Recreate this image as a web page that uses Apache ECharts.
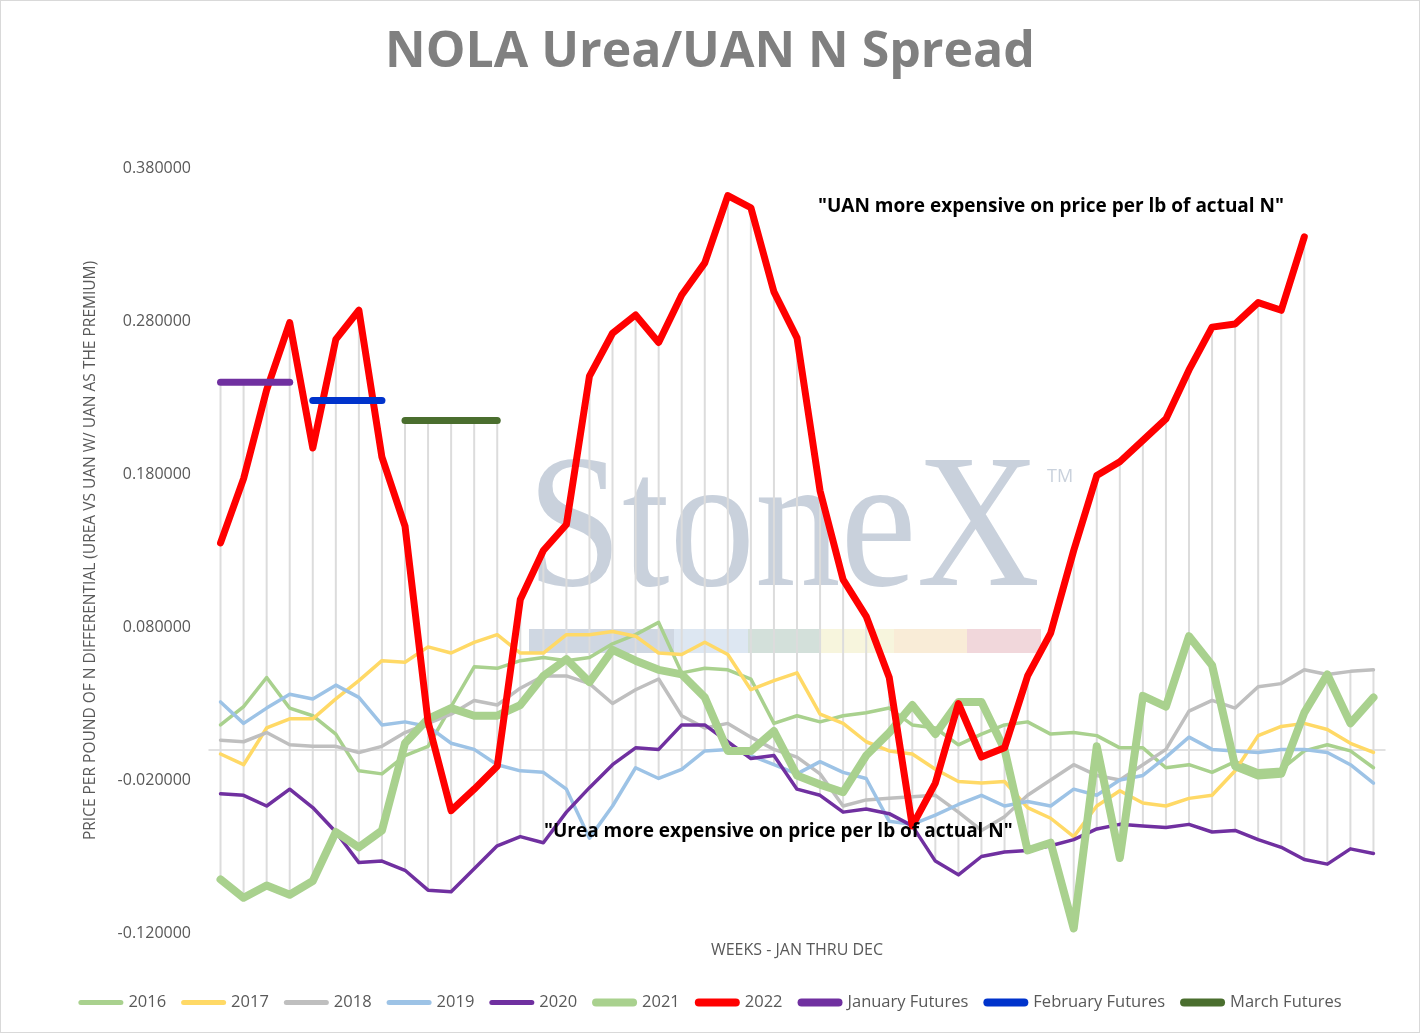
<!DOCTYPE html>
<html>
<head>
<meta charset="utf-8">
<title>NOLA Urea/UAN N Spread</title>
<script src="https://cdn.jsdelivr.net/npm/echarts@6.0.0/dist/echarts.min.js"></script>
<style>
    html, body { margin: 0; padding: 0; background: #fff; }
    #chart { width: 1420px; height: 1033px; box-sizing: border-box; border: 1px solid #d9d9d9; }
</style>
</head>
<body>
<div id="chart"></div>
<script>
// ── data (weeks Jan → Dec) ──

var weeks = ['1', '2', '3', '4', '5', '6', '7', '8', '9', '10', '11', '12', '13', '14', '15', '16', '17',
    '18', '19', '20', '21', '22', '23', '24', '25', '26', '27', '28', '29', '30', '31', '32', '33', '34',
    '35', '36', '37', '38', '39', '40', '41', '42', '43', '44', '45', '46', '47', '48', '49', '50', '51'];

var y2016 = [0.016, 0.028, 0.047, 0.027, 0.022, 0.010, -0.014, -0.016, -0.004, 0.002, 0.028, 0.054, 0.053,
    0.058, 0.060, 0.058, 0.060, 0.069, 0.075, 0.083, 0.050, 0.053, 0.052, 0.046, 0.017, 0.022, 0.018, 0.022,
    0.024, 0.027, 0.016, 0.014, 0.003, 0.010, 0.016, 0.018, 0.010, 0.011, 0.009, 0.001, 0.001, -0.012,
    -0.010, -0.015, -0.008, -0.014, -0.013, -0.001, 0.003, -0.001, -0.012];

var y2017 = [-0.003, -0.010, 0.014, 0.020, 0.020, 0.033, 0.045, 0.058, 0.057, 0.067, 0.063, 0.070, 0.075,
    0.063, 0.063, 0.075, 0.075, 0.077, 0.074, 0.063, 0.062, 0.070, 0.062, 0.039, 0.045, 0.050, 0.023, 0.017,
    0.005, -0.001, -0.003, -0.013, -0.021, -0.022, -0.021, -0.038, -0.045, -0.057, -0.037, -0.027, -0.035,
    -0.037, -0.032, -0.030, -0.014, 0.009, 0.015, 0.017, 0.013, 0.004, -0.002];

var y2018 = [0.006, 0.005, 0.011, 0.003, 0.002, 0.002, -0.002, 0.002, 0.011, 0.017, 0.023, 0.032, 0.029,
    0.040, 0.048, 0.048, 0.043, 0.030, 0.039, 0.046, 0.022, 0.014, 0.017, 0.008, 0.000, -0.005, -0.016,
    -0.037, -0.033, -0.032, -0.031, -0.030, -0.041, -0.053, -0.044, -0.030, -0.020, -0.010, -0.017, -0.020,
    -0.010, 0.000, 0.025, 0.032, 0.027, 0.041, 0.043, 0.052, 0.049, 0.051, 0.052];

var y2019 = [0.031, 0.017, 0.027, 0.036, 0.033, 0.042, 0.034, 0.016, 0.018, 0.015, 0.004, 0.000, -0.010,
    -0.014, -0.015, -0.026, -0.058, -0.037, -0.012, -0.019, -0.013, -0.001, 0.000, -0.004, -0.010, -0.016,
    -0.008, -0.015, -0.019, -0.047, -0.049, -0.043, -0.036, -0.030, -0.037, -0.034, -0.037, -0.026, -0.030,
    -0.020, -0.017, -0.005, 0.008, 0.000, -0.001, -0.002, 0.000, 0.000, -0.002, -0.010, -0.022];

var y2020 = [-0.029, -0.030, -0.037, -0.026, -0.038, -0.054, -0.074, -0.073, -0.079, -0.092, -0.093, -0.078,
    -0.063, -0.057, -0.061, -0.041, -0.025, -0.010, 0.001, 0.000, 0.016, 0.016, 0.005, -0.006, -0.004,
    -0.026, -0.030, -0.041, -0.039, -0.042, -0.050, -0.073, -0.082, -0.070, -0.067, -0.066, -0.063, -0.059,
    -0.052, -0.049, -0.050, -0.051, -0.049, -0.054, -0.053, -0.059, -0.064, -0.072, -0.075, -0.065, -0.068];

var y2021 = [-0.085, -0.097, -0.089, -0.095, -0.086, -0.054, -0.064, -0.053, 0.004, 0.020, 0.027, 0.022,
    0.022, 0.029, 0.048, 0.059, 0.044, 0.065, 0.058, 0.052, 0.049, 0.034, -0.001, -0.001, 0.012, -0.017,
    -0.023, -0.028, -0.004, 0.011, 0.029, 0.010, 0.031, 0.031, 0.000, -0.066, -0.061, -0.117, 0.002, -0.071,
    0.035, 0.028, 0.074, 0.055, -0.011, -0.017, -0.016, 0.024, 0.049, 0.017, 0.034];

var y2022 = [0.135, 0.177, 0.235, 0.279, 0.197, 0.268, 0.287, 0.191, 0.146, 0.018, -0.040, -0.026, -0.011,
    0.098, 0.130, 0.147, 0.244, 0.272, 0.284, 0.266, 0.297, 0.318, 0.362, 0.354, 0.299, 0.269, 0.169, 0.111,
    0.087, 0.047, -0.050, -0.022, 0.030, -0.005, 0.001, 0.048, 0.076, 0.130, 0.179, 0.188, 0.202, 0.216,
    0.248, 0.276, 0.278, 0.292, 0.287, 0.335];

// futures: first week index + weekly values
var janStart = 0;
var janFutures = [0.240, 0.240, 0.240, 0.240];
var febStart = 4;
var febFutures = [0.228, 0.228, 0.228, 0.228];
var marStart = 8;
var marFutures = [0.215, 0.215, 0.215, 0.215, 0.215];

var yTicks = [-0.12, -0.02, 0.08, 0.18, 0.28, 0.38];

// ── helpers ──

var FONT = '"Open Sans", "Noto Sans", sans-serif';

function futuresData(start, vals) {
    return vals.map(function (v, k) { return [start + k, v]; });
}

function padFutures(start, vals) {
    var arr = [];
    for (var i = 0; i < weeks.length; i++) arr.push(null);
    vals.forEach(function (v, k) { arr[start + k] = v; });
    return arr;
}

// Excel style high-low lines (February futures sit outside that group)
function highLow(groups) {
    var out = [];
    for (var i = 0; i < weeks.length; i++) {
        var lo = Infinity, hi = -Infinity;
        groups.forEach(function (g) {
            var v = g[i];
            if (v == null) return;
            if (v < lo) lo = v;
            if (v > hi) hi = v;
        });
        if (hi > -Infinity) out.push([i, lo, hi]);
    }
    return out;
}

var hlData = highLow([y2016, y2017, y2018, y2019, y2020, y2021, y2022,
    padFutures(janStart, janFutures), padFutures(marStart, marFutures)]);

// pill shaped legend icon, 45 wide, h tall
function pill(h) {
    var r = h / 2;
    return 'path://M' + r + ',0 L' + (45 - r) + ',0 A' + r + ',' + r + ' 0 0 1 ' + (45 - r) + ',' + h +
        ' L' + r + ',' + h + ' A' + r + ',' + r + ' 0 0 1 ' + r + ',0 Z';
}

function lineSeries(name, data, color, width, z) {
    return {
        name: name,
        type: 'line',
        data: data,
        symbol: 'none',
        showSymbol: false,
        z: z,
        lineStyle: { color: color, width: width, cap: 'round', join: 'round' },
        itemStyle: { color: color },
        emphasis: { disabled: true },
    };
}

var chart = echarts.init(document.getElementById('chart'));

chart.setOption({
    animation: false,
    backgroundColor: '#ffffff',
    title: {
        text: 'NOLA Urea/UAN N Spread',
        left: 'center',
        top: 22,
        textStyle: { fontFamily: FONT, fontWeight: 'bold', fontSize: 50, color: '#808080' },
    },
    grid: { left: 208, right: 34, top: 167, bottom: 99 },
    legend: {
        data: [
            { name: '2016', icon: pill(5) },
            { name: '2017', icon: pill(5) },
            { name: '2018', icon: pill(5) },
            { name: '2019', icon: pill(5) },
            { name: '2020', icon: pill(5) },
            { name: '2021', icon: pill(8) },
            { name: '2022', icon: pill(8) },
            { name: 'January Futures', icon: pill(8) },
            { name: 'February Futures', icon: pill(8) },
            { name: 'March Futures', icon: pill(8) },
        ],
        left: 'center',
        bottom: 16,
        itemWidth: 45,
        itemHeight: 9,
        itemGap: 15,
        textStyle: { fontFamily: FONT, fontSize: 16.5, color: '#595959' },
    },
    xAxis: [
        {
            type: 'category',
            data: weeks,
            boundaryGap: true,
            axisLine: { onZero: true, lineStyle: { color: '#d9d9d9', width: 1.5 } },
            axisTick: { show: false },
            axisLabel: { show: false },
            splitLine: { show: false },
        },
        {
            type: 'category',
            data: weeks,
            position: 'bottom',
            axisLine: { show: false, onZero: false },
            axisTick: { show: false },
            axisLabel: { show: false },
            name: 'WEEKS - JAN THRU DEC',
            nameLocation: 'middle',
            nameGap: 9,
            nameTextStyle: { fontFamily: FONT, fontSize: 16, color: '#595959' },
        },
    ],
    yAxis: {
        type: 'value',
        min: -0.12,
        max: 0.38,
        name: 'PRICE PER POUND OF N DIFFERENTIAL (UREA VS UAN W/ UAN AS THE PREMIUM)',
        nameLocation: 'middle',
        nameGap: 110,
        nameTextStyle: { fontFamily: FONT, fontSize: 15.5, color: '#595959' },
        axisLine: { show: false },
        axisTick: { show: false },
        splitLine: { show: false },
        axisLabel: {
            customValues: yTicks,
            margin: 18,
            fontFamily: FONT,
            fontSize: 16,
            color: '#595959',
            formatter: function (v) { return v.toFixed(6); },
        },
    },
    graphic: [
        // StoneX watermark
        {
            type: 'text', x: 526, y: 534, z: 0, scaleX: 0.9,
            style: {
                text: 'StoneX', font: '190px "Liberation Serif", "DejaVu Serif", serif',
                fill: '#c9d1dc', align: 'left', verticalAlign: 'middle',
            },
        },
        {
            type: 'text', x: 1046, y: 476, z: 0,
            style: { text: 'TM', font: '18px ' + FONT, fill: '#c9d1dc', align: 'left', verticalAlign: 'middle' },
        },
        { type: 'rect', z: 0, shape: { x: 528, y: 628, width: 145, height: 24 }, style: { fill: '#cfd7e2' } },
        { type: 'rect', z: 0, shape: { x: 673, y: 628, width: 74, height: 24 }, style: { fill: '#dde7f2' } },
        { type: 'rect', z: 0, shape: { x: 747, y: 628, width: 73, height: 24 }, style: { fill: '#d3e0da' } },
        { type: 'rect', z: 0, shape: { x: 820, y: 628, width: 73, height: 24 }, style: { fill: '#f7f5dd' } },
        { type: 'rect', z: 0, shape: { x: 893, y: 628, width: 73, height: 24 }, style: { fill: '#f9ecd7' } },
        { type: 'rect', z: 0, shape: { x: 966, y: 628, width: 74, height: 24 }, style: { fill: '#f1d7db' } },
        // annotations
        {
            type: 'text', x: 817, y: 206, z: 100,
            style: {
                text: '"UAN more expensive on price per lb of actual N"',
                font: 'bold 19px ' + FONT, fill: '#000', align: 'left', verticalAlign: 'middle',
            },
        },
        {
            type: 'text', x: 543, y: 831, z: 100,
            style: {
                text: '"Urea more expensive on price per lb of actual N"',
                font: 'bold 19px ' + FONT, fill: '#000', align: 'left', verticalAlign: 'middle',
            },
        },
    ],
    series: [
        {
            name: 'highlow',
            type: 'custom',
            data: hlData,
            encode: { x: 0, y: [1, 2] },
            z: 1,
            silent: true,
            renderItem: function (params, api) {
                var p1 = api.coord([api.value(0), api.value(1)]);
                var p2 = api.coord([api.value(0), api.value(2)]);
                return {
                    type: 'line',
                    shape: { x1: p1[0], y1: p1[1], x2: p2[0], y2: p2[1] },
                    style: { stroke: '#dcdcdc', lineWidth: 2 },
                };
            },
        },
        lineSeries('2016', y2016, '#a9d18e', 3.5, 3),
        lineSeries('2017', y2017, '#ffd966', 3.5, 4),
        lineSeries('2018', y2018, '#bfbfbf', 3.5, 5),
        lineSeries('2019', y2019, '#9dc3e6', 3.5, 6),
        lineSeries('2020', y2020, '#7030a0', 3.5, 7),
        lineSeries('2021', y2021, '#a9d18e', 8, 8),
        lineSeries('2022', y2022, '#ff0000', 7, 9),
        lineSeries('January Futures', futuresData(janStart, janFutures), '#7030a0', 7, 10),
        lineSeries('February Futures', futuresData(febStart, febFutures), '#0033cc', 7, 10),
        lineSeries('March Futures', futuresData(marStart, marFutures), '#4a6e2e', 7, 10),
    ],
});

window.addEventListener('resize', function () { chart.resize(); });
</script>
</body>
</html>
